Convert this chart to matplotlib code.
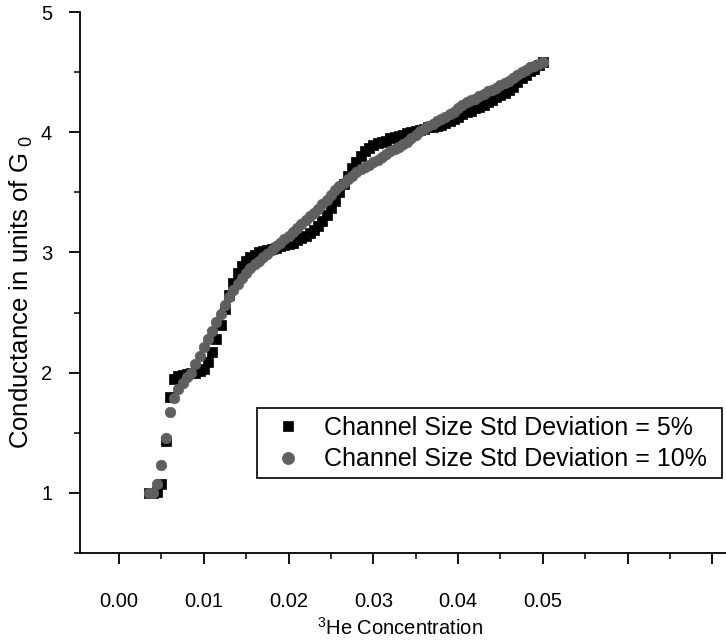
import numpy as np
import matplotlib
matplotlib.use('Agg')
import matplotlib.pyplot as plt
from matplotlib.ticker import MultipleLocator
from matplotlib.patches import Rectangle

plt.rcParams['font.family'] = ['Liberation Sans', 'DejaVu Sans']
plt.rcParams['mathtext.fontset'] = 'custom'
plt.rcParams['mathtext.rm'] = 'Liberation Sans'
plt.rcParams['mathtext.default'] = 'regular'

# 3He concentration (x axis)
conc = [0.0035, 0.004, 0.0045, 0.005, 0.0055, 0.006, 0.0065, 0.007, 0.0075, 0.008,
        0.0085, 0.009, 0.0095, 0.010, 0.0105, 0.011, 0.0115, 0.012, 0.0125, 0.013,
        0.0135, 0.014, 0.0145, 0.015, 0.0155, 0.016, 0.0165, 0.017, 0.0175, 0.018,
        0.0185, 0.019, 0.0195, 0.020, 0.0205, 0.021, 0.0215, 0.022, 0.0225, 0.023,
        0.0235, 0.024, 0.0245, 0.025, 0.0255, 0.026, 0.0265, 0.027, 0.0275, 0.028,
        0.0285, 0.029, 0.0295, 0.030, 0.0305, 0.031, 0.0315, 0.032, 0.0325, 0.033,
        0.0335, 0.034, 0.0345, 0.035, 0.0355, 0.036, 0.0365, 0.037, 0.0375, 0.038,
        0.0385, 0.039, 0.0395, 0.040, 0.0405, 0.041, 0.0415, 0.042, 0.0425, 0.043,
        0.0435, 0.044, 0.0445, 0.045, 0.0455, 0.046, 0.0465, 0.047, 0.0475, 0.048,
        0.0485, 0.049, 0.0495, 0.050]

# conductance, std deviation 5%
g_5pct = [1.00, 1.00, 1.01, 1.07, 1.43, 1.80, 1.95, 1.97, 1.98, 1.99,
          2.00, 2.00, 2.01, 2.03, 2.09, 2.17, 2.28, 2.40, 2.53, 2.65,
          2.75, 2.83, 2.89, 2.93, 2.96, 2.98, 3.00, 3.01, 3.02, 3.03,
          3.04, 3.05, 3.06, 3.07, 3.08, 3.10, 3.12, 3.14, 3.16, 3.19,
          3.22, 3.26, 3.31, 3.37, 3.43, 3.50, 3.57, 3.64, 3.70, 3.75,
          3.80, 3.84, 3.87, 3.89, 3.91, 3.92, 3.93, 3.95, 3.96, 3.97,
          3.98, 3.99, 4.00, 4.01, 4.02, 4.03, 4.04, 4.04, 4.05,
          4.06, 4.08, 4.09, 4.11, 4.13, 4.15, 4.17, 4.18, 4.20, 4.21,
          4.23, 4.25, 4.27, 4.29, 4.31, 4.33, 4.35, 4.38, 4.42,
          4.45, 4.48, 4.51, 4.53, 4.56, 4.58]

# conductance, std deviation 10%
g_10pct = [1.00, 1.00, 1.07, 1.23, 1.46, 1.67, 1.79, 1.86, 1.91, 1.96,
           2.00, 2.07, 2.14, 2.21, 2.28, 2.35, 2.42, 2.49, 2.56, 2.63,
           2.69, 2.74, 2.79, 2.83, 2.87, 2.90, 2.93, 2.96, 2.99, 3.02,
           3.05, 3.08, 3.11, 3.14, 3.17, 3.20, 3.24, 3.27, 3.30, 3.33,
           3.36, 3.40, 3.44, 3.48, 3.52, 3.55, 3.58, 3.61, 3.64, 3.67,
           3.69, 3.71, 3.73, 3.75, 3.77, 3.79, 3.82, 3.84, 3.86, 3.88,
           3.90, 3.92, 3.95, 3.98, 4.01, 4.03, 4.05, 4.07, 4.09,
           4.11, 4.13, 4.15, 4.17, 4.20, 4.23, 4.25, 4.27, 4.28, 4.30,
           4.32, 4.34, 4.35, 4.37, 4.39, 4.41, 4.43, 4.45, 4.48,
           4.50, 4.52, 4.54, 4.55, 4.57, 4.58]

x_ticks = [0.00, 0.01, 0.02, 0.03, 0.04, 0.05, 0.06, 0.07]
x_ticklabels = ['0.00', '0.01', '0.02', '0.03', '0.04', '0.05', '', '']
y_ticks = [1, 2, 3, 4, 5]

W, H = 726, 642
fig = plt.figure(figsize=(W / 100, H / 100), dpi=100)
ax = fig.add_axes([80 / W, (H - 553) / H, 646 / W, 541 / H])

ax.plot(conc, g_5pct, 's', color='black', ms=6.6, mec='black', mew=0.5,
        label='Channel Size Std Deviation = 5%')
ax.plot(conc, g_10pct, 'o', color='#5f5f5f', ms=7.6, mec='#5f5f5f', mew=0.5,
        label='Channel Size Std Deviation = 10%')

ax.set_xlim(-0.0046, 0.0716)
ax.set_ylim(0.5, 5.0)
for s in ['top', 'right']:
    ax.spines[s].set_visible(False)
for s in ['left', 'bottom']:
    ax.spines[s].set_linewidth(1.3)

ax.set_xticks(x_ticks)
ax.set_xticklabels(x_ticklabels)
ax.xaxis.set_minor_locator(MultipleLocator(0.005))
ax.set_yticks(y_ticks)
ax.yaxis.set_minor_locator(MultipleLocator(0.5))
ax.tick_params(which='major', direction='out', length=8, width=1.3,
               labelsize=14.5, colors='black')
ax.tick_params(which='minor', direction='out', length=4, width=1.1)
ax.tick_params(axis='x', which='major', pad=20)
ax.tick_params(axis='y', which='major', pad=12)

fig.text(400 / W, 1 - 628 / H, '$^{3}$He Concentration', ha='center',
         va='center', fontsize=14.5)
fig.text(21 / W, 1 - 292 / H, 'Conductance in units of G$_{\\ 0}$',
         ha='center', va='center', rotation=90, fontsize=18.5)

# legend frame drawn by hand so the text size and box size are independent
fig.patches.append(Rectangle((257 / W, 1 - 478 / H), 465 / W, 70 / H,
                             transform=fig.transFigure, fill=False,
                             edgecolor='black', linewidth=1.2))
leg = ax.legend(loc='upper left', bbox_to_anchor=(275 / W, 1 - 416 / H),
                bbox_transform=fig.transFigure, borderaxespad=0, borderpad=0,
                fontsize=18, frameon=False, numpoints=1, markerscale=1.15,
                handlelength=1.0, handletextpad=0.95, labelspacing=0.3)

fig.savefig('out.png', dpi=100)
